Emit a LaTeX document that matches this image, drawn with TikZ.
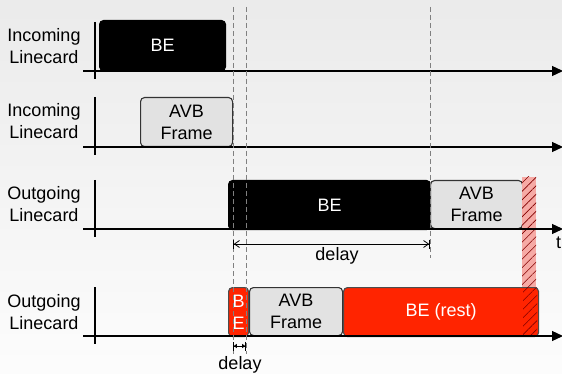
\documentclass[tikz,border=0pt]{standalone}
\usepackage{fontspec}
\setmainfont{Liberation Sans}
\usetikzlibrary{arrows.meta,patterns.meta}
\definecolor{bered}{RGB}{255,36,0}
\definecolor{avbgray}{RGB}{226,226,226}
\definecolor{hatchpink}{RGB}{246,170,165}
\tikzset{
  lbl/.style={align=center,font=\fontsize{18}{22.5}\selectfont,inner sep=0pt},
  txt/.style={font=\fontsize{18}{22}\selectfont,inner sep=0pt},
  frame/.style={rounded corners=4pt,line width=1.1pt,anchor=north west,inner sep=0pt,align=center,font=\fontsize{18}{22}\selectfont},
  beblk/.style={frame,fill=black,draw=black,text=white},
  avb/.style={frame,fill=avbgray,draw=black!80},
  bered/.style={frame,fill=bered,draw=black!70,text=white},
  axis/.style={line width=1.2pt,-{Triangle[length=11pt,width=10pt]}},
  tick/.style={line width=1.2pt},
  guide/.style={gray,line width=0.9pt,dash pattern=on 5pt off 3pt},
  dly/.style={line width=0.8pt,{Bar[width=9pt]Straight Barb[length=5pt,width=7pt]}-{Straight Barb[length=5pt,width=7pt]Bar[width=9pt]}},
  dlys/.style={line width=0.8pt,{Bar[width=9pt]Triangle[length=3pt,width=4pt]}-{Triangle[length=3pt,width=4pt]Bar[width=9pt]}},
  hatch/.style={pattern={Lines[angle=45,distance=6pt,line width=0.6pt]},pattern color=red!50!black}
}
\begin{document}
\begin{tikzpicture}[x=1pt,y=-1pt]
\shade[top color=black!8,bottom color=black!1] (0,0) rectangle (562,374);
\useasboundingbox (0,0) rectangle (562,374);
% row labels
\node[lbl] (l1) at (44,46) {Incoming\\Linecard};
\node[lbl] (l2) at (44,121) {Incoming\\Linecard};
\node[lbl] (l3) at (44,204) {Outgoing\\Linecard};
\node[lbl] (l4) at (44,312) {Outgoing\\Linecard};
% axes
\coordinate (a1s) at (83,71);  \coordinate (a1e) at (563,71);
\coordinate (a2s) at (83,147); \coordinate (a2e) at (563,147);
\coordinate (a3s) at (83,229); \coordinate (a3e) at (563,229);
\coordinate (a4s) at (83,336); \coordinate (a4e) at (563,336);
\draw[tick] (95,22) -- (95,79);
\draw[tick] (95,97) -- (95,155);
\draw[tick] (95,180) -- (95,237);
\draw[tick] (95,287) -- (95,344);
% frames
\node[beblk,minimum width=126pt,minimum height=50pt] (be1) at (99,20) {BE};
\node[avb,minimum width=92pt,minimum height=49pt] (avb2) at (140,97) {AVB\\Frame};
\node[beblk,minimum width=202pt,minimum height=49pt] (be3) at (228,180) {BE};
\node[avb,minimum width=92pt,minimum height=48pt] (avb3) at (430,180) {AVB\\Frame};
\fill[hatchpink] (522,177) rectangle (536,287);
\node[bered,minimum width=20pt,minimum height=49pt] (be4) at (228,287) {B\\E};
\node[avb,minimum width=93pt,minimum height=48pt] (avb4) at (249,287) {AVB\\Frame};
\node[bered,minimum width=195pt,minimum height=49pt] (rest4) at (343,287) {BE (rest)};
\fill[hatch] (522,177) rectangle (536,287);
\fill[hatch] (523,287) rectangle (537,335);
\draw[axis] (a1s) -- (a1e);
\draw[axis] (a2s) -- (a2e);
\draw[axis] (a3s) -- (a3e);
\draw[axis] (a4s) -- (a4e);
% guides
\coordinate (g1t) at (233,7); \coordinate (g1b) at (233,354);
\coordinate (g2t) at (246,7); \coordinate (g2b) at (246,354);
\coordinate (g3t) at (430,7); \coordinate (g3b) at (430,258);
\draw[guide] (g1t) -- (g1b);
\draw[guide] (g2t) -- (g2b);
\draw[guide] (g3t) -- (g3b);
% delays
\coordinate (d1a) at (233,244); \coordinate (d1b) at (430,244);
\draw[dly] (d1a) -- (d1b);
\node[txt] (dl1) at (337,256) {delay};
\coordinate (d2a) at (233,346); \coordinate (d2b) at (246,346);
\draw[dlys] (d2a) -- (d2b);
\node[txt] (dl2) at (240,365) {delay};
\node[txt,anchor=west] (t) at (556,243) {t};
\end{tikzpicture}
\end{document}
